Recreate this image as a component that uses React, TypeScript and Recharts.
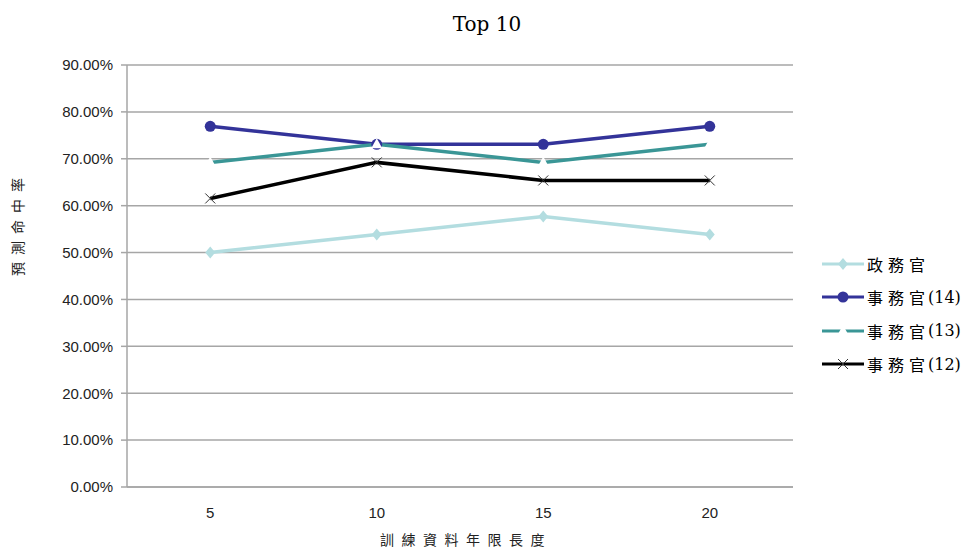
import { CartesianGrid, Line, LineChart, XAxis, YAxis } from 'recharts'

const years = ['5', '10', '15', '20']
const politicalRates = [0.5, 0.5385, 0.5769, 0.5385]
const clerk14Rates = [0.7692, 0.7308, 0.7308, 0.7692]
const clerk13Rates = [0.6923, 0.7308, 0.6923, 0.7308]
const clerk12Rates = [0.6154, 0.6923, 0.6538, 0.6538]
const yTicks = [0, 0.1, 0.2, 0.3, 0.4, 0.5, 0.6, 0.7, 0.8, 0.9]

const data = years.map((year, i) => ({
  year,
  political: politicalRates[i],
  clerk14: clerk14Rates[i],
  clerk13: clerk13Rates[i],
  clerk12: clerk12Rates[i],
}))

type Marker = 'diamond' | 'circle' | 'triangle' | 'cross'

const series: { key: string; name: string; suffix: string; color: string; marker: Marker }[] = [
  { key: 'political', name: '政務官', suffix: '', color: '#b3dde0', marker: 'diamond' },
  { key: 'clerk14', name: '事務官', suffix: '(14)', color: '#333399', marker: 'circle' },
  { key: 'clerk13', name: '事務官', suffix: '(13)', color: '#3a9696', marker: 'triangle' },
  { key: 'clerk12', name: '事務官', suffix: '(12)', color: '#000000', marker: 'cross' },
]

const sansFont = '"Liberation Sans", Arial, sans-serif'
const serifFont = '"DejaVu Serif", "Liberation Serif", "Noto Sans CJK TC", serif'
const cjkFont = '"Noto Sans CJK TC", sans-serif'

function MarkerShape({ cx, cy, marker, color }: { cx: number; cy: number; marker: Marker; color: string }) {
  if (marker === 'diamond') {
    return <path d={`M${cx},${cy - 6}L${cx + 5},${cy}L${cx},${cy + 6}L${cx - 5},${cy}Z`} fill={color} />
  }
  if (marker === 'circle') {
    return <circle cx={cx} cy={cy} r={5.5} fill={color} />
  }
  if (marker === 'triangle') {
    return <path d={`M${cx},${cy - 6}L${cx + 5.5},${cy + 4}L${cx - 5.5},${cy + 4}Z`} fill="#ffffff" />
  }
  return (
    <g stroke="#333333" strokeWidth={1}>
      <line x1={cx - 5} y1={cy - 5} x2={cx + 5} y2={cy + 5} />
      <line x1={cx - 5} y1={cy + 5} x2={cx + 5} y2={cy - 5} />
    </g>
  )
}

function ChartLegend() {
  return (
    <div
      style={{
        position: 'absolute',
        left: 822,
        top: 247,
        fontFamily: serifFont,
        fontSize: 16,
        color: '#000',
        whiteSpace: 'nowrap',
      }}
    >
      {series.map((s) => (
        <div key={s.key} style={{ display: 'flex', alignItems: 'center', height: 33.5 }}>
          <svg width={45} height={16}>
            <line x1={0} y1={8} x2={42} y2={8} stroke={s.color} strokeWidth={3} />
            <MarkerShape cx={21} cy={8} marker={s.marker} color={s.color} />
          </svg>
          <span style={{ fontFamily: cjkFont, letterSpacing: 5 }}>{s.name}</span>
          <span style={{ marginLeft: -2 }}>{s.suffix}</span>
        </div>
      ))}
    </div>
  )
}

export default function App() {
  return (
    <div style={{ position: 'absolute', left: 0, top: 0, width: 974, height: 552, background: '#fff' }}>
      <div
        style={{
          position: 'absolute',
          top: 12,
          width: 974,
          textAlign: 'center',
          fontFamily: serifFont,
          fontSize: 20,
          color: '#000',
        }}
      >
        Top 10
      </div>
      <LineChart width={974} height={552} data={data} margin={{ top: 65, right: 181, bottom: 0, left: 0 }}>
        <CartesianGrid vertical={false} stroke="#a6a6a6" strokeWidth={1.5} />
        <XAxis
          dataKey="year"
          scale="band"
          height={65}
          axisLine={{ stroke: '#a6a6a6', strokeWidth: 1.5 }}
          tickLine={false}
          tickMargin={14}
          tick={{ fill: '#222', fontSize: 15, fontFamily: sansFont }}
          label={{
            value: '訓練資料年限長度',
            position: 'insideBottom',
            offset: 7,
            dx: 6,
            fill: '#222',
            fontSize: 14,
            fontFamily: cjkFont,
            letterSpacing: 7.5,
          }}
        />
        <YAxis
          width={127}
          domain={[0, 0.9]}
          ticks={yTicks}
          interval={0}
          axisLine={{ stroke: '#a6a6a6', strokeWidth: 1.5 }}
          tickLine={{ stroke: '#a6a6a6', strokeWidth: 1.5 }}
          tickSize={6}
          tickMargin={8}
          tickFormatter={(v: number) => `${(v * 100).toFixed(2)}%`}
          tick={{ fill: '#222', fontSize: 15, fontFamily: sansFont }}
          label={{
            value: '預測命中率',
            angle: -90,
            position: 'insideLeft',
            offset: 18,
            fill: '#222',
            fontSize: 14,
            fontFamily: cjkFont,
            letterSpacing: 7,
          }}
        />
        {series.map((s) => (
          <Line
            key={s.key}
            dataKey={s.key}
            name={s.name + s.suffix}
            stroke={s.color}
            strokeWidth={3.5}
            isAnimationActive={false}
            activeDot={false}
            dot={(p: { cx?: number; cy?: number; index?: number }) => (
              <MarkerShape
                key={`${s.key}-${p.index}`}
                cx={p.cx ?? 0}
                cy={p.cy ?? 0}
                marker={s.marker}
                color={s.color}
              />
            )}
          />
        ))}
      </LineChart>
      <ChartLegend />
    </div>
  )
}
